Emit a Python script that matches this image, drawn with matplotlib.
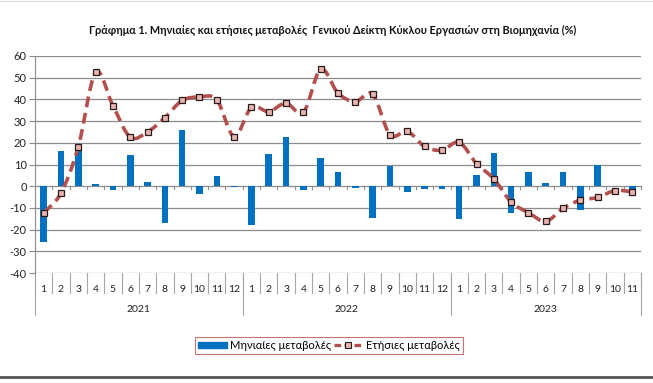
import numpy as np
import matplotlib
matplotlib.use("Agg")
import matplotlib.pyplot as plt
from matplotlib.path import Path
from matplotlib.patches import PathPatch
from matplotlib.lines import Line2D
from matplotlib.patches import Patch
import matplotlib.transforms as mtransforms

plt.rcParams['font.family'] = ['Lato', 'DejaVu Sans']
plt.rcParams['axes.unicode_minus'] = False

# data
years = ['2021', '2022', '2023']
months_per_year = [12, 12, 11]
month_labels = [str(m) for n in months_per_year for m in range(1, n + 1)]

monthly = [-25.8, 16.0, 19.1, 0.9, -1.7, 14.2, 1.8, -16.8, 25.8, -3.4, 4.7, -0.5,
           -17.7, 14.7, 22.9, -1.7, 12.8, 6.6, -0.8, -14.5, 9.3, -2.6, -1.2, -1.2,
           -15.0, 5.2, 15.1, -12.2, 6.6, 1.4, 6.6, -10.8, 10.0, 0.3, -2.0]
yearly = [-12.2, -3.2, 18.2, 52.5, 37.1, 22.6, 25.0, 31.6, 39.5, 41.1, 39.8, 22.9,
          36.3, 34.4, 38.3, 34.0, 53.9, 42.9, 39.0, 42.4, 23.7, 25.3, 18.3, 16.6,
          20.2, 10.4, 3.4, -7.3, -12.2, -16.2, -10.2, -6.4, -5.2, -2.0, -2.6]

title = 'Γράφημα 1. Μηνιαίες και ετήσιες μεταβολές  Γενικού Δείκτη Κύκλου Εργασιών στη Βιομηχανία (%)'
bar_label = 'Μηνιαίες μεταβολές'
line_label = 'Ετήσιες μεταβολές'

BLUE = '#0070C0'
RED = '#B3504D'
GRID = '#8C8C8C'

fig = plt.figure(figsize=(6.53, 3.83), dpi=100)
ax = fig.add_axes([35 / 653, 1 - 273 / 383, 606 / 653, 217 / 383])

x = np.arange(len(monthly))
ax.bar(x, monthly, width=0.38, color=BLUE, zorder=2)

# smoothed line (excel style) through the yearly points
pts = np.column_stack([x, yearly]).astype(float)
verts = [pts[0]]
codes = [Path.MOVETO]
for i in range(len(pts) - 1):
    p0 = pts[i - 1] if i > 0 else pts[i]
    p1 = pts[i]
    p2 = pts[i + 1]
    p3 = pts[i + 2] if i + 2 < len(pts) else pts[i + 1]
    c1 = p1 + (p2 - p0) / 6
    c2 = p2 - (p3 - p1) / 6
    verts += [c1, c2, p2]
    codes += [Path.CURVE4] * 3
curve = PathPatch(Path(verts, codes), facecolor='none', edgecolor=RED, lw=2.6,
                  linestyle=(0, (3, 1.6)), zorder=3)
ax.add_patch(curve)
ax.plot(x, yearly, ls='none', marker='s', ms=4.2, mfc='#E8B4B2', mec='#2a1a1a',
        mew=0.9, zorder=4)

ax.set_xlim(-0.5, len(monthly) - 0.5)
ax.set_ylim(-40, 60)
ax.set_yticks(np.arange(-40, 61, 10))
ax.yaxis.grid(True, color=GRID, lw=0.9)
ax.set_axisbelow(True)
for s in ['top', 'right', 'bottom']:
    ax.spines[s].set_visible(False)
ax.spines['left'].set_color(GRID)
ax.tick_params(axis='y', length=4, color=GRID, labelsize=8, pad=2, labelcolor='#222222')
ax.set_xticks([])

# zero-line tick marks
for b in np.arange(-0.5, len(monthly), 1):
    ax.plot([b, b], [0, -1.2], color=GRID, lw=0.8, zorder=1, clip_on=False)

# category axis at the bottom
trans = mtransforms.blended_transform_factory(ax.transData, ax.transAxes)
for b in np.arange(-0.5, len(monthly), 1):
    ax.plot([b, b], [0, -0.092], color='#A6A6A6', lw=0.8, transform=trans, clip_on=False)
for i, lab in enumerate(month_labels):
    ax.text(i, -0.074, lab, transform=trans, ha='center', va='center', fontsize=7.5,
            color='#222222')
start = -0.5
for yr, n in zip(years, months_per_year):
    ax.plot([start, start], [0, -0.194], color='#A6A6A6', lw=0.8, transform=trans, clip_on=False)
    ax.text(start + n / 2, -0.166, yr, transform=trans, ha='center', va='center',
            fontsize=7.5, color='#222222')
    start += n
ax.plot([start, start], [0, -0.194], color='#A6A6A6', lw=0.8, transform=trans, clip_on=False)

fig.text(333 / 653, 1 - 30 / 383, title, ha='center', va='center', fontsize=7.8,
         fontweight='bold', color='#111111')

handles = [Patch(facecolor=BLUE, edgecolor=BLUE),
           Line2D([], [], color=RED, lw=2.4, ls=(0, (2, 1)), marker='s', ms=4,
                  mfc='#E8B4B2', mec='#2a1a1a', mew=0.8)]
leg = fig.legend(handles, [bar_label, line_label], loc='center', ncol=2,
                 bbox_to_anchor=(329 / 653, 1 - 345.5 / 383), fontsize=8,
                 frameon=True, fancybox=False, handlelength=2.6, handleheight=0.5,
                 columnspacing=0.2, handletextpad=0.3, borderpad=0.25,
                 borderaxespad=0)
leg.get_frame().set_edgecolor('#C0504D')
leg.get_frame().set_linewidth(0.8)

fig.add_artist(Line2D([0, 1], [1 - 377 / 383] * 2, color='#555555', lw=2))
fig.add_artist(Line2D([0, 1], [1 - 1 / 383] * 2, color='#DDDDDD', lw=1))

fig.savefig('out.png', dpi=100)
